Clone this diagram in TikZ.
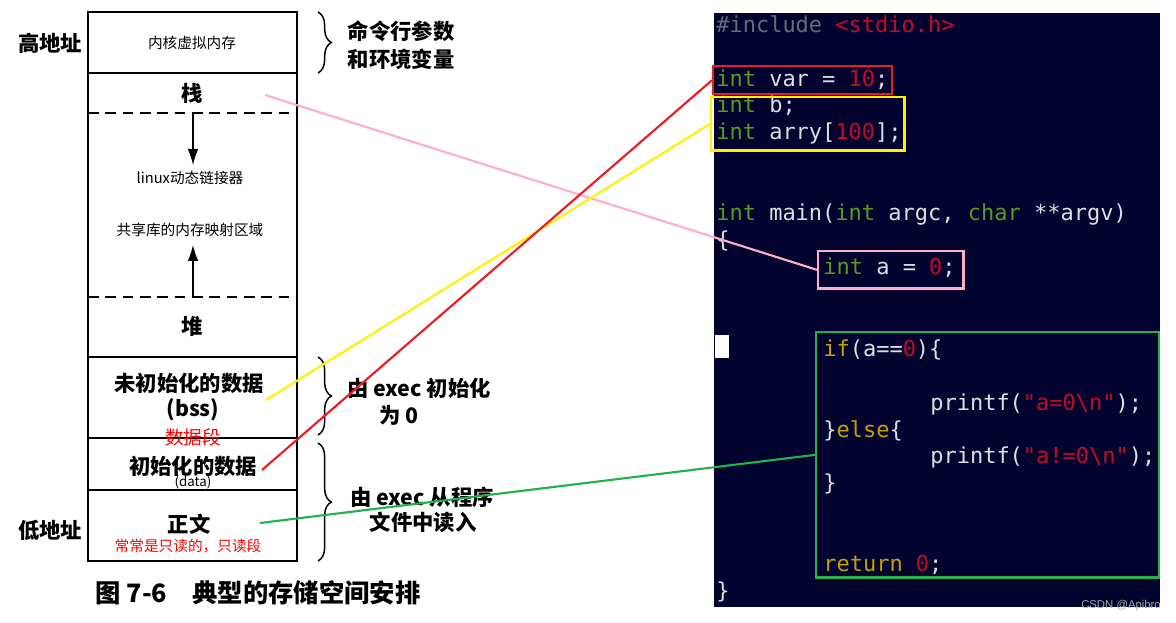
\documentclass[tikz,border=0pt]{standalone}
\usepackage{fontspec}
\newfontfamily\cjk{Noto Sans CJK SC}
\newfontfamily\codefont{DejaVu Sans Mono}
\usetikzlibrary{decorations.pathreplacing,arrows.meta}
\definecolor{panel}{RGB}{3,3,48}
\definecolor{cwhite}{RGB}{222,222,222}
\definecolor{cgreen}{RGB}{85,155,30}
\definecolor{cred}{RGB}{195,10,40}
\definecolor{cyel}{RGB}{196,160,0}
\definecolor{cgray}{RGB}{105,105,120}
\definecolor{lred}{RGB}{237,28,36}
\definecolor{lyel}{RGB}{255,242,0}
\definecolor{lpink}{RGB}{255,174,201}
\definecolor{lgreen}{RGB}{34,177,76}
\tikzset{
  lbl/.style={font=\cjk\bfseries\fontsize{16}{18}\selectfont, inner sep=0pt},
  sml/.style={font=\cjk\fontsize{11}{13}\selectfont, inner sep=0pt},
  note/.style={font=\cjk\fontsize{11}{13}\selectfont, text=red, inner sep=0pt},
  code/.style={font=\codefont\fontsize{16.5}{18}\selectfont, text=cwhite, anchor=base west, inner sep=0pt},
  hbox/.style={draw, line width=1.8pt, inner sep=0pt, fill=none},
  conn/.style={line width=1.6pt},
  memline/.style={line width=1.3pt},
  brc/.style={decorate, decoration={brace, amplitude=10pt}, line width=1.1pt}
}
\begin{document}
\begin{tikzpicture}[x=0.75pt,y=-0.75pt]
\useasboundingbox (0,0) rectangle (1176,623);
\fill[white] (0,0) rectangle (1176,623);
% ---------- memory layout ----------
\draw[memline] (88,12) rectangle (297,561);
\draw[memline] (88,73) -- (297,73);
\draw[memline, dashed, dash pattern=on 8pt off 5pt] (88,113) -- (297,113);
\draw[memline, dashed, dash pattern=on 8pt off 5pt] (88,297) -- (297,297);
\draw[memline] (88,357) -- (297,357);
\draw[memline] (88,438) -- (297,438);
\draw[memline] (88,490) -- (297,490);
\node[lbl] (hi) at (50,43) {高地址};
\node[lbl] (lo) at (50,530) {低地址};
\node[sml] (kern) at (192,43) {内核虚拟内存};
\node[lbl] (stack) at (192,93) {栈};
\node[sml] (ld) at (190,178) {linux动态链接器};
\node[sml] (shm) at (190,230) {共享库的内存映射区域};
\node[lbl] (heap) at (192,326) {堆};
\node[lbl] (bss1) at (189,383) {未初始化的数据};
\node[lbl] (bss2) at (193,410) {(bss)};
\node[note, font=\cjk\fontsize{14}{16}\selectfont] (dseg) at (193,437) {数据段};
\node[lbl] (data1) at (193,466) {初始化的数据};
\node[sml, font=\cjk\fontsize{10}{12}\selectfont] (data2) at (193,482) {(data)};
\node[lbl] (text) at (189,524) {正文};
\node[note] (ro) at (188,546) {常常是只读的，只读段};
\coordinate (aTop) at (193,113);
\coordinate (aBot) at (193,297);
\draw[line width=1pt, -{Latex[length=12pt,width=8pt]}] (aTop) -- (193,165);
\draw[line width=1pt, -{Latex[length=12pt,width=8pt]}] (aBot) -- (193,245);
% braces
\draw[brc] (318,12) -- (318,73);
\draw[brc] (318,357) -- (318,435);
\draw[brc] (318,443) -- (318,561);
\node[lbl] (b1a) at (401,31) {命令行参数};
\node[lbl] (b1b) at (401,59) {和环境变量};
\node[lbl] (b2a) at (419,388) {由 exec 初始化};
\node[lbl] (b2b) at (399,415) {为 0};
\node[lbl] (b3a) at (422,497) {由 exec 从程序};
\node[lbl] (b3b) at (423,522) {文件中读入};
\node[font=\cjk\bfseries\fontsize{19}{21}\selectfont, inner sep=0pt] (cap) at (258,593) {图 7-6\quad 典型的存储空间安排};
% ---------- code panel ----------
\fill[panel] (714,13) rectangle (1160,607);
\node[code] (l1) at (716,33) {\textcolor{cgray}{\#include} \textcolor{cred}{<stdio.h>}};
\node[code] (l2) at (716,87) {\textcolor{cgreen}{int} var = \textcolor{cred}{10};};
\node[code] (l3) at (716,113) {\textcolor{cgreen}{int} b;};
\node[code] (l4) at (716,140) {\textcolor{cgreen}{int} arry[\textcolor{cred}{100}];};
\node[code] (l5) at (716,221) {\textcolor{cgreen}{int} main(\textcolor{cgreen}{int} argc, \textcolor{cgreen}{char} **argv)};
\node[code] (l6) at (716,248) {\{};
\node[code] (l7) at (823,275) {\textcolor{cgreen}{int} a = \textcolor{cred}{0};};
\node[fill=white, minimum width=10pt, minimum height=17pt, inner sep=0pt, anchor=north west] (cursor) at (715,335) {};
\node[code] (l8) at (823,356) {\textcolor{cyel}{if}(a==\textcolor{cred}{0})\{};
\node[code] (l9) at (930,410) {printf(\textcolor{cred}{"a=0\textbackslash n"});};
\node[code] (l10) at (823,437) {\}\textcolor{cyel}{else}\{};
\node[code] (l11) at (930,463) {printf(\textcolor{cred}{"a!=0\textbackslash n"});};
\node[code] (l12) at (823,490) {\}};
\node[code] (l13) at (823,571) {\textcolor{cyel}{return} \textcolor{cred}{0};};
\node[code] (l14) at (716,598) {\}};
\node[font=\fontspec{Liberation Sans}\fontsize{8.5}{10}\selectfont, text=gray!70, inner sep=0pt] (wm) at (1121,606) {CSDN @Apibro};
% highlight boxes
\node[hbox, draw=lred, minimum width=134pt, minimum height=21pt, anchor=north west] (redbox) at (712,65) {};
\node[hbox, draw=lyel, minimum width=145pt, minimum height=40pt, anchor=north west] (yelbox) at (710,96) {};
\node[hbox, draw=lpink, minimum width=109pt, minimum height=28pt, anchor=north west] (pinkbox) at (817,250) {};
\node[hbox, draw=lgreen, minimum width=257pt, minimum height=184pt, anchor=north west] (grnbox) at (815,331) {};
% connectors
\coordinate (sStack) at (265,95);
\coordinate (sBss) at (266,400);
\coordinate (sData) at (262,470);
\coordinate (sText) at (260,523);
\draw[conn, lpink] (sStack) -- (pinkbox.west);
\draw[conn, lyel] (sBss) -- (yelbox.west);
\draw[conn, lred] (sData) -- (redbox.west);
\draw[conn, lgreen] (sText) -- (grnbox.west);
\end{tikzpicture}
\end{document}
